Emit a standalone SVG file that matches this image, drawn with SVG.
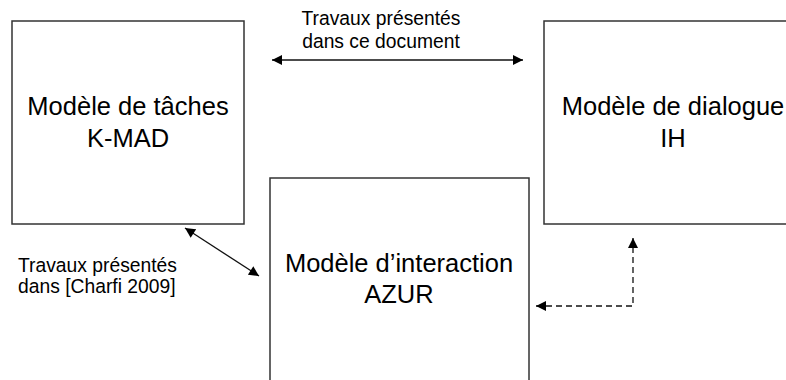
<svg xmlns="http://www.w3.org/2000/svg" width="786" height="380" viewBox="0 0 786 380">
<style>
.box{fill:#fff;stroke:#333;stroke-width:1.5}
.big{font-family:"Liberation Sans",Arial,sans-serif;font-size:25.5px;fill:#000;text-anchor:middle}
.small{font-family:"Liberation Sans",Arial,sans-serif;font-size:19.3px;fill:#000}
.ln{stroke:#111;stroke-width:1.3;fill:none}
.dash{stroke:#111;stroke-width:1.3;fill:none;stroke-dasharray:6,4}
</style>
<defs>
<marker id="ah" viewBox="0 0 10 10" refX="10" refY="5" markerWidth="12" markerHeight="10" markerUnits="userSpaceOnUse" orient="auto-start-reverse">
<path d="M0,0 L10,5 L0,10 Z" fill="#000"/>
</marker>
</defs>
<rect width="786" height="380" fill="#fff"/>
<g id="node-kmad">
<rect class="box" x="12" y="21" width="232" height="203"/>
<text class="big" x="128" y="115">Modèle de tâches</text>
<text class="big" x="128" y="147">K-MAD</text>
</g>
<g id="node-ih">
<rect class="box" x="544" y="21" width="260" height="203"/>
<text class="big" x="673" y="115">Modèle de dialogue</text>
<text class="big" x="673" y="147">IH</text>
</g>
<g id="node-azur">
<rect class="box" x="270" y="178" width="259" height="220"/>
<text class="big" x="399" y="272">Modèle d’interaction</text>
<text class="big" x="399" y="303">AZUR</text>
</g>
<g id="labels">
<text class="small" x="381" y="25" text-anchor="middle">Travaux présentés</text>
<text class="small" x="381" y="48" text-anchor="middle">dans ce document</text>
<text class="small" x="18" y="272">Travaux présentés</text>
<text class="small" x="18" y="293">dans [Charfi 2009]</text>
</g>
<g id="connectors">
<line class="ln" x1="272" y1="60" x2="523" y2="60" marker-start="url(#ah)" marker-end="url(#ah)"/>
<line class="ln" x1="185" y1="228" x2="259" y2="276" marker-start="url(#ah)" marker-end="url(#ah)"/>
<polyline class="dash" points="536,306 633,306 633,238" marker-start="url(#ah)" marker-end="url(#ah)"/>
</g>
</svg>
